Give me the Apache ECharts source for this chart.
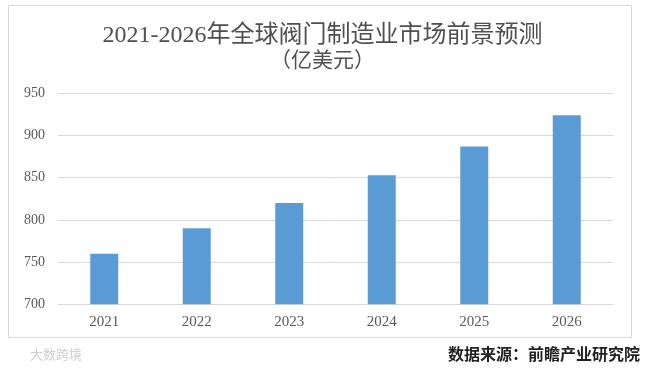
<!DOCTYPE html>
<html><head><meta charset="utf-8">
<script src="https://cdn.jsdelivr.net/npm/echarts@6/dist/echarts.min.js"></script>
<style>html,body{margin:0;padding:0;background:#fff}#c{width:645px;height:369px}</style>
</head><body><div id="c"></div>
<script>
const categories = ['2021','2022','2023','2024','2025','2026'];
const values = [760, 790, 820, 853, 887, 924];
const titleText = '2021-2026年全球阀门制造业市场前景预测';
const subtitleText = '（亿美元）';
const sourceText = '数据来源：前瞻产业研究院';
const watermarkText = '大数跨境';

const serif = '"Liberation Serif","DejaVu Serif","Noto Sans CJK SC",serif';
const chart = echarts.init(document.getElementById('c'));
chart.setOption({
  animation: false,
  backgroundColor: '#fff',
  title: [
    {text: titleText, left: 'center', top: 19, textStyle: {fontFamily: serif, fontSize: 24, fontWeight: 'normal', color: '#505050'}},
    {text: subtitleText, left: 'center', top: 46, textStyle: {fontFamily: serif, fontSize: 21, fontWeight: 'normal', color: '#505050'}}
  ],
  graphic: [
    {type: 'rect', shape: {x: 8.5, y: 5.5, width: 623, height: 332}, style: {fill: 'none', stroke: '#d9d9d9', lineWidth: 1}, z: -1},
    {type: 'text', left: 30, top: 348, style: {text: watermarkText, fontSize: 13, fill: '#cfcfcf', fontFamily: '"Noto Sans CJK SC",sans-serif'}},
    {type: 'text', right: 5, top: 346, style: {text: sourceText, fontSize: 16, fill: '#222', fontWeight: 'bold', fontFamily: '"Noto Sans CJK SC",serif'}}
  ],
  grid: {left: 58, right: 32, top: 93.3, bottom: 64.7, containLabel: false},
  xAxis: {
    type: 'category', data: categories,
    axisLine: {lineStyle: {color: '#d9d9d9'}},
    axisTick: {show: false},
    axisLabel: {fontFamily: serif, fontSize: 15, color: '#595959', margin: 10}
  },
  yAxis: {
    type: 'value', min: 700, max: 950, interval: 50,
    axisLine: {show: false}, axisTick: {show: false},
    splitLine: {lineStyle: {color: '#d9d9d9'}},
    axisLabel: {fontFamily: serif, fontSize: 14, color: '#595959', margin: 13}
  },
  series: [{
    type: 'bar', data: values, barWidth: 28,
    itemStyle: {color: '#5b9bd5'}
  }]
});
</script></body></html>
